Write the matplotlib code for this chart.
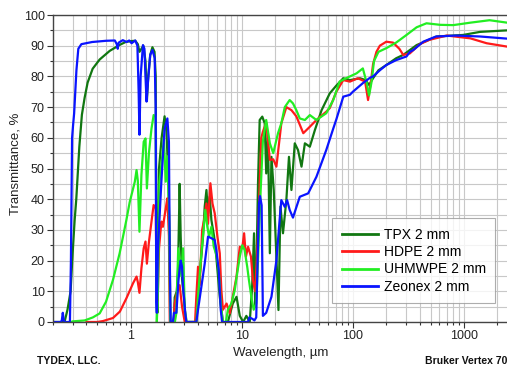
import matplotlib
matplotlib.use("Agg")
import matplotlib.pyplot as plt
from matplotlib.ticker import FixedLocator, LogLocator, MultipleLocator, NullFormatter

plt.rcParams['font.family'] = ['Liberation Sans', 'DejaVu Sans']

# TPX 2 mm  (wavelength in um, transmittance in %)
tpx_wl = [0.20, 0.254, 0.27, 0.288, 0.30, 0.313, 0.324, 0.345, 0.364, 0.385, 0.41, 0.455, 0.526, 0.647,
          0.80, 0.90, 1.0, 1.1, 1.16, 1.2, 1.25, 1.3, 1.36, 1.40, 1.44, 1.5, 1.57, 1.64, 1.68, 1.71,
          1.74, 1.80, 1.9, 2.02, 2.1, 2.18, 2.23, 2.28, 2.45, 2.49, 2.6, 2.67, 2.76, 2.82, 2.9, 3.02,
          3.13, 3.9, 4.18, 4.48, 4.64, 4.81, 4.97, 5.15, 5.33, 5.63, 5.9, 6.34, 6.77, 7.5, 8.3, 8.97,
          9.6, 10.3, 11.0, 11.8, 12.4, 12.9, 13.2, 13.6, 14.0, 14.5, 15.3, 16.1, 16.6, 17.2, 17.9,
          18.5, 19.4, 20.5, 21.4, 22.3, 23.5, 25.2, 26.6, 28.0, 30.0, 32.1, 34.5, 37.0, 41.0, 45.5,
          52.3, 62, 71, 82, 94, 116, 130, 140, 152, 170, 200, 245, 284, 375, 570, 980, 1394, 2450]
tpx_t = [0, 0, 4, 10, 22, 33, 40, 57, 67.5, 73, 78, 82.5, 85.5, 88.3,
         90.3, 91.2, 91.5, 91.6, 90.5, 88, 89, 90, 85, 72, 80, 87, 89.5, 88, 80, 10,
         3, 50, 60, 67, 62, 48, 30, 0, 0, 8, 10, 17, 45, 28, 14, 8,
         0, 0, 14.8, 27.8, 37.6, 43, 35.4, 40.8, 33.2, 28, 21.3, 8.2, 0, 0, 6, 8.2,
         2, 0, 2, 0, 11.5, 28.9, 5, 20, 45, 65.8, 66.9, 64.7, 48.4, 61.5, 22.4,
         53.8, 43, 21.3, 3.9, 37.6, 28.9, 39.7, 53.8, 43, 58.2, 56, 50.6, 58.2, 57.1, 62.5,
         69, 74.5, 77, 79.4, 78.8, 79.4, 78.8, 77.2, 79.4, 82, 83.7, 85.9, 87, 90.2, 93, 93.5, 94.5, 95]

# HDPE 2 mm
hdpe_wl = [0.40, 0.5, 0.563, 0.693, 0.8, 0.915, 1.05, 1.13, 1.16, 1.2, 1.25, 1.31, 1.36, 1.40, 1.46,
           1.54, 1.61, 1.68, 1.72, 1.75, 1.80, 1.89, 1.95, 2.07, 2.14, 2.21, 2.25, 2.45, 2.49, 2.6,
           2.76, 2.9, 3.07, 3.8, 3.9, 4.04, 4.18, 4.4, 4.58, 4.81, 4.97, 5.22, 5.45, 5.71, 6.04,
           6.34, 6.55, 6.77, 7.3, 7.8, 8.3, 8.97, 9.6, 10.1, 10.5, 10.9, 11.4, 12.1, 12.6, 13.2,
           14.0, 14.5, 15.0, 15.5, 16.6, 17.9, 19.2, 20.5, 22.7, 25.2, 28, 31, 35.8, 41, 47, 57.6,
           62, 71, 82, 94, 111, 129, 137, 145, 152, 163, 175, 200, 230, 262, 284, 326, 400, 487,
           700, 1140, 1600, 2450]
hdpe_t = [0, 0, 0.3, 1.3, 3.4, 7.7, 12.6, 14.8, 13, 9.5, 17.5, 24, 26.2, 19, 26,
          32.7, 38.1, 37, 8, 7, 24, 32.7, 31, 37, 40.3, 28, 0, 0, 6, 9.3,
          12, 5, 0, 0, 8.2, 18, 12, 30, 33.2, 38.6, 32, 45.2, 38.6, 35.4, 27.8,
          22.4, 10.4, 4, 6, 2.8, 8.2, 14.8, 24.5, 24, 28.9, 21.3, 24.5, 21.3, 13.7, 10,
          27.8, 45, 60, 62, 65, 52.8, 53, 50.6, 64.7, 70, 69, 67, 61.5, 63.6, 65.8, 68.5,
          69.7, 75, 78.8, 78.3, 79.4, 78.3, 72.3, 78, 84, 88, 90, 91.3, 91, 89, 87, 87.5, 90.5, 91.9,
          93.3, 92.4, 90.8, 89.7]

# UHMWPE 2 mm
uhmw_wl = [0.29, 0.30, 0.385, 0.457, 0.526, 0.60, 0.693, 0.796, 0.915, 0.98, 1.09, 1.13, 1.16, 1.2,
           1.25, 1.31, 1.36, 1.40, 1.46, 1.54, 1.61, 1.68, 1.70, 1.72, 1.76, 1.82, 1.93, 1.99, 2.07,
           2.14, 2.21, 2.27, 2.5, 2.58, 2.68, 2.86, 2.96, 3.07, 3.2, 3.9, 4.04, 4.33, 4.53, 4.70,
           4.9, 5.08, 5.33, 5.6, 5.9, 6.2, 6.5, 6.77, 7.2, 7.5, 8.06, 8.65, 9.1, 9.6, 10.1, 10.6,
           11.2, 11.6, 12.2, 12.8, 13.5, 14.0, 14.8, 15.5, 16.6, 17.9, 19.2, 21.2, 22.7, 24.4, 27,
           28.9, 31, 33.3, 37, 41, 47, 57.6, 66.6, 76, 88, 108, 123, 133, 140, 147, 155, 170, 200,
           245, 304, 375, 460, 610, 800, 1140, 1700, 2450]
uhmw_t = [0, 0.2, 0.5, 1.5, 2.8, 6.6, 13.7, 22.4, 33.2, 39, 45.7, 49.5, 46, 29.4,
          47.9, 58.7, 59.8, 43.5, 55, 63, 67.4, 67, 30, 0, 10, 45.7, 54.4, 59.8, 45.7,
          54, 38, 0, 0, 3, 24, 15, 24, 4, 0, 0, 8.2, 22.4, 30, 36.5,
          31, 27.8, 31, 24.5, 22, 17, 5, 0, 0, 4, 6, 10.4, 15.9, 21.3, 25, 23.5,
          18, 13.7, 8.2, 4, 6, 20, 43, 59, 65.8, 58.2, 55, 61.5, 64.7, 70, 72.3,
          71.2, 69, 66.3, 65.8, 67.4, 65.8, 68, 72.3, 78.3, 79.5, 81, 82.6, 78, 73.8, 78, 85, 88, 89.2,
          91, 93.5, 96, 97.3, 96.8, 96.7, 97.5, 98.3, 97.5]

# Zeonex 2 mm
zeo_wl = [0.20, 0.235, 0.240, 0.245, 0.25, 0.256, 0.284, 0.29, 0.297, 0.303, 0.31, 0.325, 0.338, 0.36,
          0.45, 0.6, 0.72, 0.75, 0.765, 0.78, 0.85, 0.92, 0.97, 1.02, 1.1, 1.15, 1.18, 1.2, 1.23,
          1.29, 1.33, 1.36, 1.39, 1.43, 1.5, 1.57, 1.645, 1.68, 1.70, 1.72, 1.76, 1.89, 2.02, 2.14,
          2.21, 2.25, 2.29, 2.4, 2.45, 2.58, 2.7, 2.82, 2.9, 2.96, 3.1, 3.17, 3.9, 4.04, 4.33, 4.64,
          4.97, 5.33, 5.71, 5.9, 6.2, 6.47, 6.65, 11.4, 11.7, 12.5, 13.0, 13.5, 14.0, 14.3, 14.6,
          15.1, 15.5, 16.6, 18.5, 20.5, 22, 22.7, 24.4, 25.6, 27, 28.9, 33.3, 39.6, 47, 57.6, 66.6,
          71, 82, 94, 100, 123, 142, 152, 175, 200, 245, 304, 326, 350, 430, 560, 850, 1394, 2450]
zeo_t = [0, 0, 0.5, 3, 0.5, 0, 0, 20, 60, 64, 68, 82, 89, 90.5,
         91.2, 91.6, 91.7, 90.5, 89, 91, 91.8, 91.2, 91.7, 90.8, 91.7, 90, 75, 61, 80,
         90.2, 89, 80, 71.8, 78, 87, 88.6, 86, 70, 6.6, 3, 24, 45.7, 63, 66.3,
         58.7, 20, 0, 0, 3, 3, 14, 20, 18, 11.5, 3, 0, 0, 4, 11.5, 19,
         27.8, 27.3, 26.7, 23.5, 17, 4, 0, 0, 1.5, 1, 0.5, 1.5, 25, 38.6, 41,
         38, 2, 3, 8.2, 20, 34, 39.7, 37.5, 39.7, 36.5, 34, 40.8, 41.9, 47.3, 56, 63,
         66, 73.4, 74, 75, 77.8, 79.5, 80, 82, 83.7, 85.3, 86.5, 88, 88.6, 91.3, 93, 93.3, 93, 92.3]

series = [
    ("TPX 2 mm", tpx_wl, tpx_t, "#117711"),
    ("HDPE 2 mm", hdpe_wl, hdpe_t, "#ff1a1a"),
    ("UHMWPE 2 mm", uhmw_wl, uhmw_t, "#22ee22"),
    ("Zeonex 2 mm", zeo_wl, zeo_t, "#0a14ff"),
]

fig = plt.figure(figsize=(5.07, 3.65), dpi=100)
ax = fig.add_axes([53 / 507, 43 / 365, 454 / 507, 307 / 365])

for name, wl, t, col in series:
    ax.plot(wl, t, color=col, lw=1.6, label=name)

ax.set_xscale("log")
ax.set_xlim(0.2, 2440)
ax.set_ylim(0, 100)

ax.xaxis.set_major_locator(FixedLocator([1, 10, 100, 1000]))
ax.set_xticklabels(["1", "10", "100", "1000"])
ax.xaxis.set_minor_locator(LogLocator(base=10, subs=range(2, 10), numticks=20))
ax.xaxis.set_minor_formatter(NullFormatter())
ax.yaxis.set_major_locator(MultipleLocator(10))
ax.yaxis.set_minor_locator(MultipleLocator(5))

ax.grid(which="both", color="#c8c8c8", lw=0.8)
ax.set_axisbelow(True)
ax.tick_params(which="major", direction="out", length=4, width=0.8, labelsize=9, colors="#333333",
               labelcolor="#222222", pad=2)
ax.tick_params(which="minor", direction="out", length=2.5, width=0.8, colors="#333333")

for s in ["left", "bottom", "top"]:
    ax.spines[s].set_color("#444444")
    ax.spines[s].set_linewidth(1.0)
ax.spines["right"].set_visible(False)

ax.set_xlabel("Wavelength, \u00b5m", fontsize=9.5, color="#222222")
ax.xaxis.set_label_coords(0.501, -0.08)
ax.set_ylabel("Transmittance, %", fontsize=9.5, color="#222222")
ax.yaxis.set_label_coords(-0.07, 0.515)

leg = ax.legend(loc="lower right", bbox_to_anchor=(0.9736, 0.062), borderaxespad=0,
                fontsize=10, frameon=True, fancybox=False, edgecolor="#999999",
                handlelength=2.6, handletextpad=0.45, labelspacing=0.25, borderpad=0.65)
leg.get_frame().set_linewidth(0.8)
for line in leg.get_lines():
    line.set_linewidth(2)

fig.text(0.073, 0.004, "TYDEX, LLC.", fontsize=7.5, fontweight="bold", color="#111111",
         ha="left", va="baseline")
fig.text(1.0, 0.004, "Bruker Vertex 70", fontsize=7.5, fontweight="bold", color="#111111",
         ha="right", va="baseline")

fig.savefig("out.png", dpi=100)
